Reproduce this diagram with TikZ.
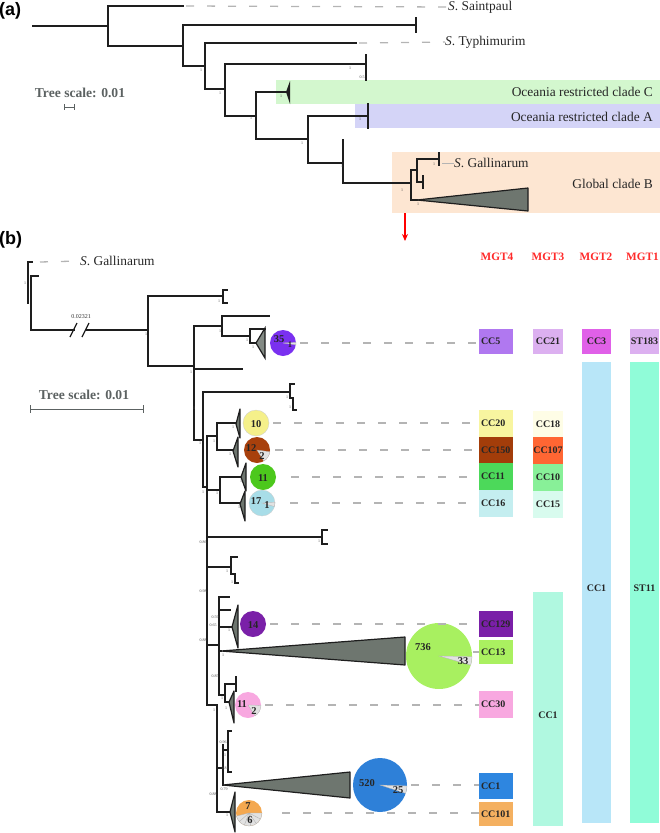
\documentclass[tikz,border=0pt]{standalone}
\usepackage{fontspec}
\setmainfont{Liberation Serif}
\newfontfamily\panelfont{Liberation Sans}
\usetikzlibrary{arrows.meta}
\definecolor{treeline}{HTML}{1E1E1E}
\definecolor{dashgray}{HTML}{B4B4B4}
\definecolor{scalegray}{HTML}{5C6262}
\definecolor{clgreen}{HTML}{D3F7CE}
\definecolor{clpurple}{HTML}{D4D4F7}
\definecolor{clorange}{HTML}{FDE6D2}
\definecolor{trigray}{HTML}{6E766F}
\definecolor{slicegray}{HTML}{E2E2E2}
\definecolor{hdrred}{HTML}{FF2A2A}
\definecolor{pA}{HTML}{7A30F0}
\definecolor{pB}{HTML}{F5F08A}
\definecolor{pC}{HTML}{A8400C}
\definecolor{pD}{HTML}{4CC81C}
\definecolor{pE}{HTML}{A8DDE8}
\definecolor{pF}{HTML}{7A20A8}
\definecolor{pG}{HTML}{A8F060}
\definecolor{pH}{HTML}{F8A8E0}
\definecolor{pI}{HTML}{2E80D8}
\definecolor{pJ}{HTML}{F4A850}
\definecolor{bCCfive}{HTML}{B078F0}
\definecolor{bCCtwenty}{HTML}{F8F5A0}
\definecolor{bCConefifty}{HTML}{A33D0A}
\definecolor{bCCeleven}{HTML}{4CD95A}
\definecolor{bCCsixteen}{HTML}{C4EEF0}
\definecolor{bCConetwonine}{HTML}{7A1FA8}
\definecolor{bCCthirteen}{HTML}{AAF060}
\definecolor{bCCthirty}{HTML}{F8A8E0}
\definecolor{bCCone}{HTML}{2E86E0}
\definecolor{bCConezeroone}{HTML}{F4B060}
\definecolor{bCCtwentyone}{HTML}{DCB0F0}
\definecolor{bCCeighteen}{HTML}{FEFDE6}
\definecolor{bCConezeroseven}{HTML}{FF6633}
\definecolor{bCCten}{HTML}{88F098}
\definecolor{bCCfifteen}{HTML}{D8FBEE}
\definecolor{bMGTthreeone}{HTML}{B0F8E0}
\definecolor{bCCthree}{HTML}{E060E8}
\definecolor{bMGTtwoone}{HTML}{B8E6F8}
\definecolor{bSTone}{HTML}{DCB0F0}
\definecolor{bSTeleven}{HTML}{90FCD8}
\begin{document}
\begin{tikzpicture}[x=1pt,y=-1pt,
  tl/.style={draw=treeline,line width=1.6pt,line cap=rect},
  dsh/.style={draw=dashgray,line width=1.3pt,dash pattern=on 8pt off 13pt},
  trifill/.style={fill=trigray,draw=treeline,line width=1.2pt,line join=round},
  sp/.style={inner sep=0,font=\fontsize{13.4}{15}\selectfont,text=black!85},
  scl/.style={inner sep=0,font=\fontsize{13.6}{15}\selectfont\bfseries,text=scalegray},
  bs/.style={inner sep=0,font=\fontsize{4}{4}\selectfont,text=black!70},
  pnl/.style={inner sep=0,font=\panelfont\fontsize{18}{20}\selectfont\bfseries},
  hdr/.style={inner sep=0,font=\fontsize{11.3}{12}\selectfont\bfseries,text=hdrred},
  bx/.style={inner sep=0,draw=none},
  bt/.style={inner sep=0,font=\fontsize{10}{11}\selectfont\bfseries,text=black!85},
  pie/.style={circle,inner sep=0,draw=none},
  pt/.style={inner sep=0,font=\fontsize{10.5}{11}\selectfont\bfseries,text=black!85},
  slice/.style={fill=slicegray,draw=gray!60,line width=0.3pt}]
\useasboundingbox (0,0) rectangle (660,833);

% ================= panel (a) =================
\node[pnl,anchor=west] (la) at (-1,11) {(a)};
\fill[clgreen] (276,80) rectangle (660,104);
\fill[clpurple] (355,104) rectangle (660,128);
\fill[clorange] (392,152) rectangle (660,213);

\draw[tl] (33,26) -- (108,26);
\draw[tl] (183,6) -- (108,6) -- (108,46) -- (183,46);
\draw[tl] (416,25) -- (183,25) -- (183,66) -- (205,66);
\draw[tl] (416,18) -- (416,32);
\draw[tl] (356,43) -- (205,43) -- (205,89) -- (225,89);
\draw[tl] (366,64) -- (225,64) -- (225,116) -- (256,116);
\draw[tl] (366,55) -- (366,80);
\draw[tl] (287,92) -- (256,92) -- (256,139) -- (308,139);
\fill[treeline] (286,92) -- (290,81) -- (290,104) -- cycle;
\draw[tl] (368,116) -- (308,116) -- (308,163) -- (343,163);
\draw[tl] (368,104) -- (368,128);
\draw[tl] (343,140) -- (343,183) -- (411,183);
\draw[tl] (417,170) -- (411,170) -- (411,200) -- (417,200);
\draw[tl] (417,159) -- (417,182);
\draw[tl] (417,159) -- (439,159);
\draw[tl] (439,153) -- (439,165);
\draw[tl] (417,182) -- (423,182);
\draw[tl] (423,176) -- (423,188);
\filldraw[trifill] (417,200) -- (528,188) -- (528,211) -- cycle;

\coordinate (tSaint) at (186,6);
\coordinate (tTyph) at (359,43);
\coordinate (tGall) at (442,163);
\node[sp,anchor=west] (saint) at (448,7) {\textit{S}. Saintpaul};
\node[sp,anchor=west] (typh) at (445,42) {\textit{S}. Typhimurim};
\node[sp,anchor=west] (gallA) at (454,163) {\textit{S}. Gallinarum};
\draw[dsh] (tSaint) -- (saint.west);
\draw[dsh] (tTyph) -- (typh.west);
\draw[draw=dashgray,line width=1pt] (tGall) -- (gallA.west);

\node[sp,anchor=east] (cladeC) at (653,92) {Oceania restricted clade C};
\node[sp,anchor=east] (cladeA) at (653,117) {Oceania restricted clade A};
\node[sp,anchor=east] (cladeB) at (653,184) {Global clade B};

\node[scl] (scaleA) at (80,93) {Tree scale: 0.01};
\draw[draw=scalegray,line width=1pt] (64,107) -- (74,107) (64,104) -- (64,110) (74,104) -- (74,110);

\node[bs] (a1) at (201,70) {1};
\node[bs] (a2) at (220,93) {1};
\node[bs] (a3) at (251,118) {1};
\node[bs] (a4) at (281,96) {1};
\node[bs] (a5) at (302,143) {1};
\node[bs] (a6) at (350,68) {1};
\node[bs] (a7) at (362,77) {0.5};
\node[bs] (a8) at (360,119) {1};
\node[bs] (a9) at (342,166) {1};
\node[bs] (a10) at (402,190) {1};
\node[bs] (a11) at (418,204) {1};
\node[bs] (a12) at (434,164) {1};

\coordinate (arrS) at (405,213);
\coordinate (arrE) at (405,241);
\draw[red,line width=1.1pt,-{Stealth[length=7pt,width=6pt]}] (arrS) -- (arrE);

% ================= panel (b) =================
\node[pnl,anchor=west] (lb) at (-1,240) {(b)};

% headers
\node[hdr] (h4) at (497,257) {MGT4};
\node[hdr] (h3) at (548,257) {MGT3};
\node[hdr] (h2) at (596,257) {MGT2};
\node[hdr] (h1) at (642.5,257) {MGT1};

% columns
\node[bx,fill=bMGTtwoone,minimum width=29,minimum height=461,anchor=north] (m2col) at (596.5,362) {};
\node[bx,fill=bSTeleven,minimum width=29,minimum height=461,anchor=north] (m1col) at (644.5,362) {};
\node[bx,fill=bMGTthreeone,minimum width=30,minimum height=234,anchor=north] (m3col) at (548,592) {};
\node[bt] at (596.5,588) {CC1};
\node[bt] at (644.5,588) {ST11};
\node[bt] at (548,715) {CC1};

% MGT2 / MGT1 top boxes
\node[bx,fill=bCCthree,minimum width=29,minimum height=25] (cc3) at (596.5,341.5) {};
\node[bt] at (cc3) {CC3};
\node[bx,fill=bSTone,minimum width=29,minimum height=25] (st183) at (644.5,341.5) {};
\node[bt] at (st183) {ST183};

% MGT3 boxes
\node[bx,fill=bCCtwentyone,minimum width=30,minimum height=25] (cc21) at (548,341.5) {};
\node[bt] at (cc21) {CC21};
\node[bx,fill=bCCeighteen,minimum width=30,minimum height=26] (cc18) at (548,424) {};
\node[bt] at (cc18) {CC18};
\node[bx,fill=bCConezeroseven,minimum width=30,minimum height=27] (cc107) at (548,450.5) {};
\node[bt] at (cc107) {CC107};
\node[bx,fill=bCCten,minimum width=30,minimum height=27] (cc10) at (548,477.5) {};
\node[bt] at (cc10) {CC10};
\node[bx,fill=bCCfifteen,minimum width=30,minimum height=27] (cc15) at (548,504.5) {};
\node[bt] at (cc15) {CC15};

% MGT4 boxes
\node[bx,fill=bCCfive,minimum width=34,minimum height=25] (cc5) at (496,341.5) {};
\node[bt,anchor=west] at ([xshift=2]cc5.west) {CC5};
\node[bx,fill=bCCtwenty,minimum width=34,minimum height=27] (cc20) at (496,423.5) {};
\node[bt,anchor=west] at ([xshift=2]cc20.west) {CC20};
\node[bx,fill=bCConefifty,minimum width=34,minimum height=26] (cc150) at (496,450) {};
\node[bt,anchor=west] at ([xshift=2]cc150.west) {CC150};
\node[bx,fill=bCCeleven,minimum width=34,minimum height=27] (cc11) at (496,476.5) {};
\node[bt,anchor=west] at ([xshift=2]cc11.west) {CC11};
\node[bx,fill=bCCsixteen,minimum width=34,minimum height=27] (cc16) at (496,503.5) {};
\node[bt,anchor=west] at ([xshift=2]cc16.west) {CC16};
\node[bx,fill=bCConetwonine,minimum width=34,minimum height=26] (cc129) at (496,624) {};
\node[bt,anchor=west] at ([xshift=2]cc129.west) {CC129};
\node[bx,fill=bCCthirteen,minimum width=34,minimum height=24] (cc13) at (496,652) {};
\node[bt,anchor=west] at ([xshift=2]cc13.west) {CC13};
\node[bx,fill=bCCthirty,minimum width=34,minimum height=27] (cc30) at (496,704.5) {};
\node[bt,anchor=west] at ([xshift=2]cc30.west) {CC30};
\node[bx,fill=bCCone,minimum width=34,minimum height=26] (cc1) at (496,786) {};
\node[bt,anchor=west] at ([xshift=2]cc1.west) {CC1};
\node[bx,fill=bCConezeroone,minimum width=34,minimum height=24] (cc101) at (496,814) {};
\node[bt,anchor=west] at ([xshift=2]cc101.west) {CC101};

% outgroup S. Gallinarum
\draw[tl] (32,262) -- (28,262) -- (28,303);
\draw[tl] (38,276) -- (31,276) -- (31,330) -- (74,330);
\draw[tl] (86,330) -- (148,330);
\draw[treeline,line width=1.3pt] (70,337) -- (77,323) (82,337) -- (89,323);
\node[inner sep=0,font=\fontsize{6}{6}\selectfont,text=black!80] (brk) at (81,317) {0.02321};
\coordinate (tGallB) at (40,262);
\node[sp,anchor=west] (gallB) at (80,261) {\textit{S}. Gallinarum};
\draw[dsh] (tGallB) -- (gallB.west);

\node[scl] (scaleB) at (84,395) {Tree scale: 0.01};
\draw[draw=scalegray,line width=1pt] (30,409) -- (143,409) (30,405) -- (30,413) (143,405) -- (143,413);

% backbone
\draw[tl] (194,366) -- (148,366) -- (148,296) -- (222,296);
\draw[tl] (227,290) -- (223,290) -- (223,303) -- (227,303);
\draw[tl] (194,326) -- (194,440) -- (203,440);
\draw[tl] (194,369) -- (242,369);
% clade 35
\draw[tl] (194,326) -- (222,326);
\draw[tl] (269,316) -- (222,316) -- (222,336) -- (250,336);
\draw[tl] (265,329) -- (250,329) -- (250,343) -- (256,343);
\filldraw[fill=trigray!85,draw=treeline,line width=1.2pt] (256,343) -- (265,328) -- (265,358) -- cycle;
% leaf bracket at 290
\draw[tl] (203,392) -- (203,487) -- (207,487);
\draw[tl] (203,392) -- (290,392);
\draw[tl] (294,384) -- (290,384) -- (290,398) -- (293,398) -- (293,410) -- (296,410);
% node B
\draw[tl] (207,436) -- (207,705) -- (217,705);
\draw[tl] (207,436) -- (217,436);
\draw[tl] (236,423) -- (217,423) -- (217,450) -- (233,450);
\filldraw[trifill] (236,424) -- (240,409) -- (240,438) -- cycle;
\filldraw[trifill] (233,451) -- (238,437) -- (238,467) -- cycle;
\draw[tl] (207,490) -- (220,490);
\draw[tl] (241,477) -- (220,477) -- (220,503) -- (240,503);
\filldraw[trifill] (241,477) -- (246,463) -- (246,491) -- cycle;
\filldraw[trifill] (240,504) -- (245,491) -- (245,521) -- cycle;
\draw[tl] (207,537) -- (322,537);
\draw[tl] (327,530) -- (322,530) -- (322,544) -- (327,544);
\draw[tl] (207,567) -- (231,567);
\draw[tl] (237,557) -- (231,557) -- (231,574) -- (235,574) -- (235,583) -- (238,583);
% node C
\draw[tl] (207,645) -- (219,645);
\draw[tl] (219,597) -- (219,695);
\draw[tl] (219,597) -- (229,597);
\draw[tl] (219,610) -- (230,610);
\draw[tl] (219,627) -- (232,627);
\filldraw[trifill] (232,627) -- (238,605) -- (238,648) -- cycle;
\draw[tl] (219,651) -- (221,651);
\filldraw[trifill] (221,651) -- (405,637) -- (405,665) -- cycle;
\draw[tl] (219,695) -- (225,695);
\draw[tl] (236,684) -- (225,684) -- (225,702) -- (229,702);
\draw[tl] (236,677) -- (236,691);
\filldraw[trifill] (229,702) -- (234,691) -- (234,723) -- cycle;
% node D
\draw[tl] (217,705) -- (217,812) -- (230,812);
\draw[tl] (217,768) -- (223,768);
\draw[tl] (223,745) -- (223,785);
\draw[tl] (223,750) -- (228,750);
\draw[tl] (231,731) -- (228,731) -- (228,772) -- (231,772);
\filldraw[trifill] (223,785) -- (350,772) -- (350,798) -- cycle;
\filldraw[trifill] (230,812) -- (235,792) -- (235,832) -- cycle;

% bootstrap values (b)
\node[bs] at (25,283) {1};
\node[bs] at (146,334) {1};
\node[bs] at (219,301) {1};
\node[bs] at (191,372) {1};
\node[bs] at (194,408) {1};
\node[bs] at (220,331) {1};
\node[bs] at (247,340) {1};
\node[bs] at (253,347) {1};
\node[bs] at (287,397) {1};
\node[bs] at (290,407) {1};
\node[bs] at (200,443) {1};
\node[bs] at (214,441) {1};
\node[bs] at (233,427) {1};
\node[bs] at (230,454) {1};
\node[bs] at (203,492) {1};
\node[bs] at (217,493) {1};
\node[bs] at (241,481) {1};
\node[bs] at (239,507) {1};
\node[bs] at (203,542) {0.86};
\node[bs] at (319,541) {1};
\node[bs] at (227,571) {1};
\node[bs] at (232,582) {1};
\node[bs] at (203,591) {0.98};
\node[bs] at (215,617) {0.59};
\node[bs] at (213,625) {0.65};
\node[bs] at (229,630) {1};
\node[bs] at (203,640) {0.88};
\node[bs] at (223,655) {1};
\node[bs] at (215,676) {0.85};
\node[bs] at (222,698) {1};
\node[bs] at (226,708) {1};
\node[bs] at (214,710) {1};
\node[bs] at (223,742) {0.96};
\node[bs] at (225,755) {1};
\node[bs] at (225,768) {0.81};
\node[bs] at (224,789) {0.79};
\node[bs] at (213,794) {0.88};
\node[bs] at (227,815) {1};

% ---- pies ----
\node[pie,fill=pA,minimum size=26] (p35) at (283,343) {};
\fill[slice] (p35.center) -- ++(-3:13) arc[start angle=-3,end angle=8,radius=13] -- cycle;
\node[pt] at (279,339) {35};
\node[pt,font=\fontsize{8.5}{9}\selectfont\bfseries] at (290,345) {1};

\node[pie,fill=pB,draw=gray!40,line width=0.3pt,minimum size=26] (p10) at (256,423) {};
\node[pt] at (256,424) {10};

\node[pie,fill=pC,minimum size=26] (p12) at (257,450) {};
\fill[slice] (p12.center) -- ++(8:13) arc[start angle=8,end angle=58,radius=13] -- cycle;
\node[pt] at (251,448) {12};
\node[pt] at (262,456) {2};

\node[pie,fill=pD,minimum size=26] (p11) at (263,477) {};
\node[pt] at (263,478) {11};

\node[pie,fill=pE,draw=gray!40,line width=0.3pt,minimum size=26] (p17) at (262,503) {};
\fill[slice] (p17.center) -- ++(-4:13) arc[start angle=-4,end angle=16,radius=13] -- cycle;
\node[pt] at (256,501) {17};
\node[pt] at (267,505) {1};

\node[pie,fill=pF,minimum size=26] (p14) at (253,624) {};
\node[pt] at (253,625) {14};

\node[pie,fill=pG,minimum size=66] (p736) at (439,656) {};
\fill[slice] (p736.center) -- ++(1:33) arc[start angle=1,end angle=16,radius=33] -- cycle;
\node[pt] at (423,647) {736};
\node[pt] at (463,661) {33};

\node[pie,fill=pH,minimum size=26] (p11b) at (248,705) {};
\fill[slice] (p11b.center) -- ++(2:13) arc[start angle=2,end angle=57,radius=13] -- cycle;
\node[pt] at (242,704) {11};
\node[pt] at (254,711) {2};

\node[pie,fill=pI,minimum size=54] (p520) at (380,785) {};
\fill[slice] (p520.center) -- ++(2:27) arc[start angle=2,end angle=18,radius=27] -- cycle;
\node[pt] at (367,783) {520};
\node[pt] at (398,790) {25};

\node[pie,fill=pJ,minimum size=26] (p7) at (249,813) {};
\fill[slice] (p7.center) -- ++(0:13) arc[start angle=0,end angle=166,radius=13] -- cycle;
\foreach \a in {27.7,55.4,83.1,110.8,138.5}
  \draw[gray!60,line width=0.4pt] (p7.center) -- ++(\a:13);
\node[pt] at (248,806) {7};
\node[pt] at (250,820) {6};

% ---- dashed connectors to MGT4 boxes ----
\draw[dsh] ([xshift=4]p35.east) -- (p35.east -| cc5.west);
\draw[dsh] ([xshift=4]p10.east) -- (p10.east -| cc20.west);
\draw[dsh] ([xshift=5]p12.east) -- (p12.east -| cc150.west);
\draw[dsh] ([xshift=15]p11.east) -- (p11.east -| cc11.west);
\draw[dsh] ([xshift=15]p17.east) -- (p17.east -| cc16.west);
\draw[dsh] ([xshift=4]p14.east) -- (p14.east -| cc129.west);
\draw[dsh] ([xshift=1]p736.east |- cc13.west) -- (cc13.west);
\draw[dsh] ([xshift=4]p11b.east) -- (p11b.east -| cc30.west);
\draw[dsh] ([xshift=4]p520.east) -- (p520.east -| cc1.west);
\draw[dsh] ([xshift=20]p7.east) -- (p7.east -| cc101.west);
\end{tikzpicture}
\end{document}
